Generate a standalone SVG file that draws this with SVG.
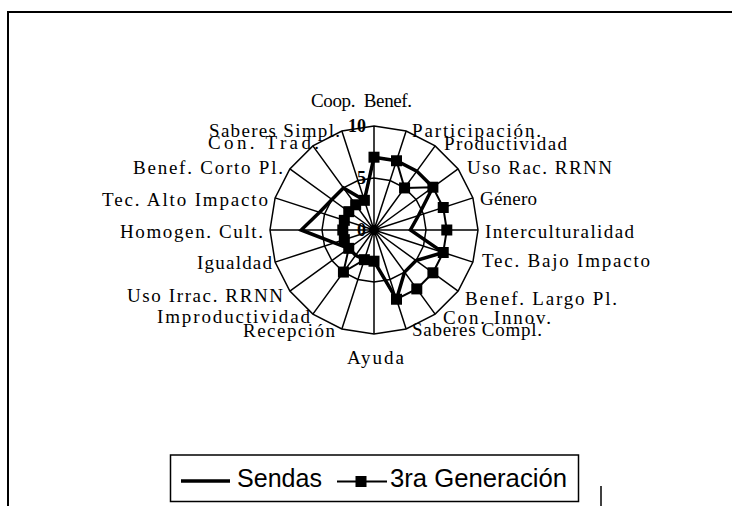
<svg xmlns="http://www.w3.org/2000/svg" xmlns:xlink="http://www.w3.org/1999/xlink" width="732" height="506" viewBox="0 0 732 506">
<style>
.lbl{font-family:"Liberation Serif","Times New Roman",serif;font-size:19px;fill:#000}
.val{font-family:"Liberation Serif","Times New Roman",serif;font-size:18px;font-weight:bold;fill:#000}
.leg{font-family:"Liberation Sans",Arial,sans-serif;font-size:25px;fill:#000}
.grid{fill:none;stroke:#000;stroke-width:1.5}
.sendas{fill:none;stroke:#000;stroke-width:3.5;stroke-linejoin:miter;stroke-miterlimit:10}
.gen3{fill:none;stroke:#000;stroke-width:2;stroke-linejoin:miter}
</style>
<defs>
<rect id="m" x="-5.5" y="-5.5" width="11" height="11" fill="#000"/>
</defs>
<rect x="0" y="0" width="732" height="506" fill="#fff"/>
<rect x="8" y="12" width="740" height="520" fill="none" stroke="#000" stroke-width="2"/>
<line x1="601" y1="486" x2="601" y2="506" stroke="#000" stroke-width="1.5"/>
<g id="grid">
<polygon class="grid" points="374,126 406.14,131.09 435.13,145.86 458.14,168.87 472.91,197.86 478,230 472.91,262.14 458.14,291.13 435.13,314.14 406.14,328.91 374,334 341.86,328.91 312.87,314.14 289.86,291.13 275.09,262.14 270,230 275.09,197.86 289.86,168.87 312.87,145.86 341.86,131.09"/>
<polygon class="grid" points="374,178 390.07,180.54 404.57,187.93 416.07,199.43 423.46,213.93 426,230 423.46,246.07 416.07,260.57 404.57,272.07 390.07,279.46 374,282 357.93,279.46 343.43,272.07 331.93,260.57 324.54,246.07 322,230 324.54,213.93 331.93,199.43 343.43,187.93 357.93,180.54"/>
<path class="grid" d="M374,230L374,126M374,230L406.14,131.09M374,230L435.13,145.86M374,230L458.14,168.87M374,230L472.91,197.86M374,230L478,230M374,230L472.91,262.14M374,230L458.14,291.13M374,230L435.13,314.14M374,230L406.14,328.91M374,230L374,334M374,230L341.86,328.91M374,230L312.87,314.14M374,230L289.86,291.13M374,230L275.09,262.14M374,230L270,230M374,230L275.09,197.86M374,230L289.86,168.87M374,230L312.87,145.86M374,230L341.86,131.09"/>
</g>
<g id="axis-values">
<text class="val" x="366" y="132" text-anchor="end">10</text>
<text class="val" x="366" y="184" text-anchor="end">5</text>
<text class="val" x="366" y="236" text-anchor="end">0</text>
</g>
<g id="series-sendas">
<polygon class="sendas" points="374,157.2 396.5,160.76 416.79,171.1 432.9,187.21 418.51,215.54 410.4,230 443.24,252.5 416.07,260.57 404.57,272.07 396.5,299.24 374,261.2 364.36,259.67 355.66,255.24 348.76,248.34 334.44,242.85 301.2,230 319.6,212.32 331.93,199.43 343.43,187.93 364.36,200.33"/>
</g>
<g id="series-3ra-generacion">
<polygon class="gen3" points="374,157.2 396.5,160.76 404.57,187.93 432.9,187.21 443.24,207.5 446.8,230 443.24,252.5 432.9,272.79 416.79,288.9 396.5,299.24 374,261.2 364.36,259.67 343.43,272.07 348.76,248.34 344.33,239.64 342.8,230 344.33,220.36 348.76,211.66 355.66,204.76 364.36,200.33"/>
<use xlink:href="#m" x="374" y="157.2"/>
<use xlink:href="#m" x="396.5" y="160.76"/>
<use xlink:href="#m" x="404.57" y="187.93"/>
<use xlink:href="#m" x="432.9" y="187.21"/>
<use xlink:href="#m" x="443.24" y="207.5"/>
<use xlink:href="#m" x="446.8" y="230"/>
<use xlink:href="#m" x="443.24" y="252.5"/>
<use xlink:href="#m" x="432.9" y="272.79"/>
<use xlink:href="#m" x="416.79" y="288.9"/>
<use xlink:href="#m" x="396.5" y="299.24"/>
<use xlink:href="#m" x="374" y="261.2"/>
<use xlink:href="#m" x="364.36" y="259.67"/>
<use xlink:href="#m" x="343.43" y="272.07"/>
<use xlink:href="#m" x="348.76" y="248.34"/>
<use xlink:href="#m" x="344.33" y="239.64"/>
<use xlink:href="#m" x="342.8" y="230"/>
<use xlink:href="#m" x="344.33" y="220.36"/>
<use xlink:href="#m" x="348.76" y="211.66"/>
<use xlink:href="#m" x="355.66" y="204.76"/>
<use xlink:href="#m" x="364.36" y="200.33"/>
</g>
<g id="axis-labels">
<text class="lbl" x="311" y="107" textLength="101" lengthAdjust="spacing" xml:space="preserve" style="white-space:pre">Coop.  Benef.</text>
<text class="lbl" x="412" y="137" textLength="129" lengthAdjust="spacing">Participación.</text>
<text class="lbl" x="444" y="149.5" textLength="123" lengthAdjust="spacing">Productividad</text>
<text class="lbl" x="467" y="173.5" textLength="145" lengthAdjust="spacing">Uso Rac. RRNN</text>
<text class="lbl" x="480" y="205" textLength="57" lengthAdjust="spacing">Género</text>
<text class="lbl" x="485" y="238" textLength="149" lengthAdjust="spacing">Interculturalidad</text>
<text class="lbl" x="482" y="267" textLength="168" lengthAdjust="spacing">Tec. Bajo Impacto</text>
<text class="lbl" x="465" y="305" textLength="152" lengthAdjust="spacing">Benef. Largo Pl.</text>
<text class="lbl" x="443" y="323.5" textLength="108" lengthAdjust="spacing">Con. Innov.</text>
<text class="lbl" x="412" y="335.5" textLength="130" lengthAdjust="spacing">Saberes Compl.</text>
<text class="lbl" x="347" y="364" textLength="57" lengthAdjust="spacing">Ayuda</text>
<text class="lbl" x="243" y="337" textLength="92" lengthAdjust="spacing">Recepción</text>
<text class="lbl" x="157" y="323" textLength="153" lengthAdjust="spacing">Improductividad</text>
<text class="lbl" x="127" y="301.5" textLength="156" lengthAdjust="spacing">Uso Irrac. RRNN</text>
<text class="lbl" x="197" y="268.5" textLength="75" lengthAdjust="spacing">Igualdad</text>
<text class="lbl" x="120" y="237.5" textLength="143" lengthAdjust="spacing">Homogen. Cult.</text>
<text class="lbl" x="102" y="205.5" textLength="166" lengthAdjust="spacing">Tec. Alto Impacto</text>
<text class="lbl" x="133" y="173.5" textLength="150" lengthAdjust="spacing">Benef. Corto Pl.</text>
<text class="lbl" x="208" y="149" textLength="111" lengthAdjust="spacing">Con. Trad.</text>
<text class="lbl" x="209" y="137" textLength="131" lengthAdjust="spacing">Saberes Simpl.</text>
</g>
<g id="legend">
<rect x="170.5" y="455" width="408" height="46.5" fill="#fff" stroke="#000" stroke-width="1.5"/>
<line x1="181" y1="481" x2="230" y2="481" stroke="#000" stroke-width="3.5"/>
<text class="leg" x="237" y="487" textLength="85" lengthAdjust="spacingAndGlyphs">Sendas</text>
<line x1="337" y1="481.5" x2="387" y2="481.5" stroke="#000" stroke-width="2"/>
<use xlink:href="#m" x="361" y="481.5"/>
<text class="leg" x="390" y="487" textLength="177" lengthAdjust="spacingAndGlyphs">3ra Generación</text>
</g>
</svg>
